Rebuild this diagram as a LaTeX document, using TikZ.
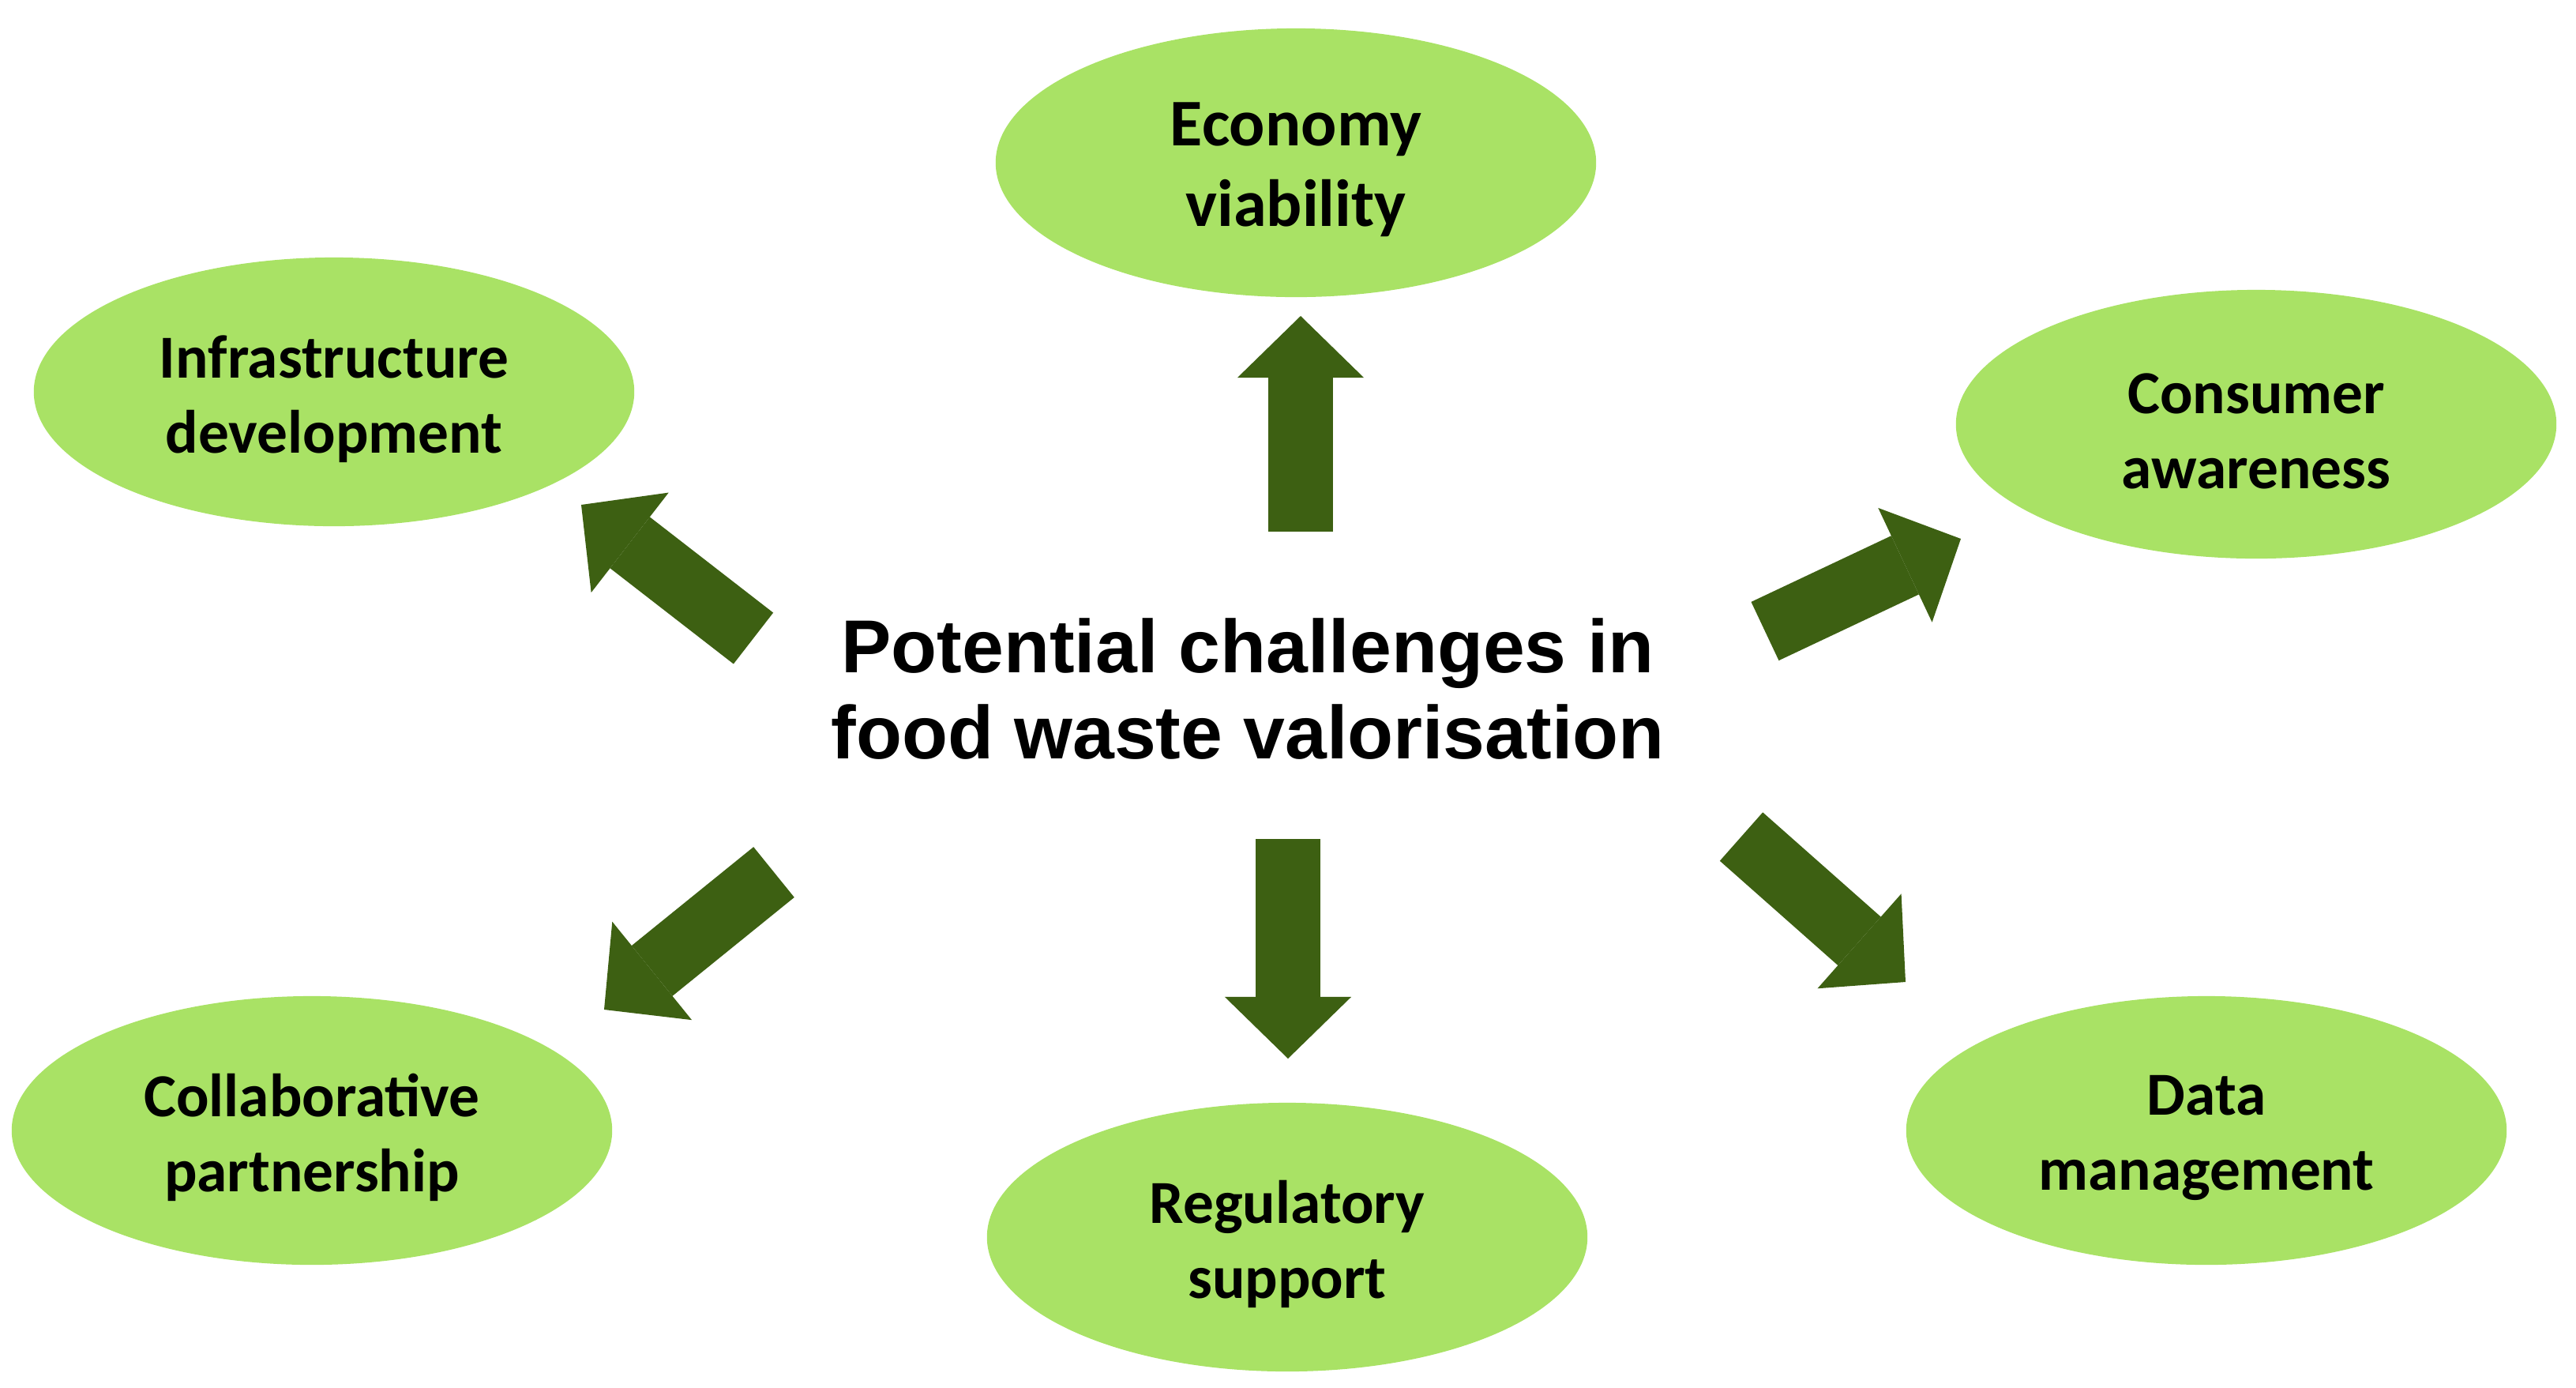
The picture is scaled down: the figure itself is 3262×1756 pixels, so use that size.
\documentclass[tikz,border=0pt]{standalone}
\usepackage{fontspec}
\newfontfamily\labelfont{Carlito}
\newfontfamily\titlefont{Liberation Sans}
\usepackage{tikz}
\usetikzlibrary{positioning,arrows.meta,shapes.geometric}
\definecolor{leafgreen}{RGB}{169,226,101}
\definecolor{darkleaf}{RGB}{61,96,18}

\begin{document}
\begin{tikzpicture}[
  x=0.01cm, y=-0.01cm,
  topic/.style={ellipse, fill=leafgreen, minimum width=7.6cm, minimum height=3.4cm,
                inner sep=0pt},
  topictext/.style={align=center, yshift=-0.09cm,
                    font=\labelfont\bfseries\fontsize{22}{27}\selectfont},
  fatarrow/.style={draw=darkleaf, line width=0.82cm,
                   -{Triangle[width=1.6cm, length=0.78cm, line width=0pt]}}
]
  \useasboundingbox (0,0) rectangle (3262,1756);

  \node[align=center, font=\titlefont\bfseries\fontsize{27}{31}\selectfont] (core) at (1580,872)
    {Potential challenges in\\food waste valorisation};

  \node[topic, label={[topictext, font=\labelfont\bfseries\fontsize{24}{29}\selectfont, name=eco-txt]center:Economy\\viability}] (eco) at (1641,206) {};
  \node[topic, label={[topictext, name=infra-txt]center:Infrastructure\\development}] (infra) at (423,496) {};
  \node[topic, label={[topictext, name=cons-txt]center:Consumer\\awareness}] (cons) at (2857,537) {};
  \node[topic, label={[topictext, name=collab-txt]center:Collaborative\\partnership}] (collab) at (395,1431) {};
  \node[topic, label={[topictext, name=reg-txt]center:Regulatory\\support}] (reg) at (1630,1566) {};
  \node[topic, label={[topictext, name=data-txt]center:Data\\management}] (data) at (2794,1431) {};

  % block arrows around the centre
  \coordinate (eco-tail) at (1647,673);    \coordinate (eco-tip) at (1647,400);
  \coordinate (reg-tail) at (1631,1062);   \coordinate (reg-tip) at (1631,1340);
  \coordinate (infra-tail) at (954,808);   \coordinate (infra-tip) at (736,639);
  \coordinate (cons-tail) at (2235,799);   \coordinate (cons-tip) at (2483,682);
  \coordinate (collab-tail) at (980,1104); \coordinate (collab-tip) at (765,1278);
  \coordinate (data-tail) at (2205,1059);  \coordinate (data-tip) at (2413,1243);

  \draw[fatarrow] (eco-tail) -- (eco-tip);
  \draw[fatarrow] (reg-tail) -- (reg-tip);
  \draw[fatarrow] (infra-tail) -- (infra-tip);
  \draw[fatarrow] (cons-tail) -- (cons-tip);
  \draw[fatarrow] (collab-tail) -- (collab-tip);
  \draw[fatarrow] (data-tail) -- (data-tip);
\end{tikzpicture}
\end{document}
